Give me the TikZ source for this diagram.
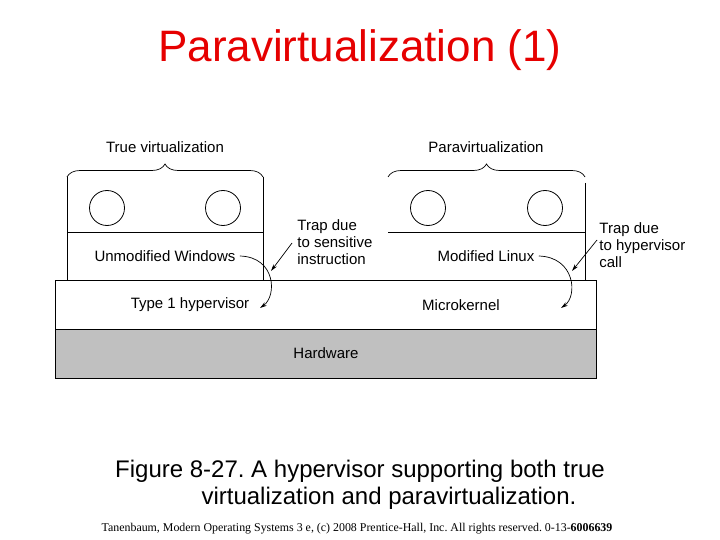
\documentclass[tikz,border=0pt]{standalone}
\usepackage{fontspec}
\setmainfont{Liberation Sans}
\newfontfamily\footfont{Liberation Serif}
\usetikzlibrary{decorations.pathreplacing,arrows.meta}
\definecolor{hwgray}{RGB}{192,192,192}
\definecolor{titlered}{RGB}{230,0,0}
\frenchspacing
\begin{document}
\begin{tikzpicture}[x=1pt,y=-1pt,line width=0.8pt,
  lbl/.style={font=\fontsize{15}{17}\selectfont,inner sep=0pt},
  note/.style={font=\fontsize{15}{17}\selectfont,align=left,anchor=north west,inner sep=0pt},
  vm/.style={circle,draw,minimum size=35pt,inner sep=0pt},
  layer/.style={draw,minimum width=541pt,minimum height=49pt,anchor=north west,inner sep=0pt},
  bracestyle/.style={decorate,decoration={brace,amplitude=13pt},line width=0.7pt},
  trap/.style={-{Stealth[length=7pt,width=4pt]},line width=0.7pt}]
\useasboundingbox (0,0) rectangle (720,540);
% title
\node[font=\fontsize{44}{48}\selectfont,text=titlered,anchor=base] (title) at (360,62) {Paravirtualization (1)};
% layers
\node[layer,fill=hwgray] (hw) at (55,329) {};
\node[layer] (hyp) at (55,280) {};
\node[lbl] (hwlbl) at (326,353) {Hardware};
\node[lbl] (t1) at (190,305) {Type 1 hypervisor};
\node[lbl] (mk) at (461,305) {Microkernel};
% left VM stack
\draw (67,177) -- (67,280);
\draw (263,177) -- (263,280);
\draw (67,232) -- (263,232);
\node[vm] (c1) at (107,208) {};
\node[vm] (c2) at (223,208) {};
\draw[bracestyle] (67,177) -- (263,177);
\node[lbl] (tv) at (165,147) {True virtualization};
\node[lbl] (uw) at (165,256) {Unmodified Windows};
% right VM stack
\draw (585,183) -- (585,280);
\draw (388,232) -- (585,232);
\node[vm] (c3) at (428,208) {};
\node[vm] (c4) at (545,208) {};
\draw[bracestyle] (388,177) -- (585,177);
\node[lbl] (pv) at (486,147) {Paravirtualization};
\node[lbl] (ml) at (486,256) {Modified Linux};
% trap notes
\node[note] (n1) at (297,219) {Trap due\\to sensitive\\instruction};
\node[note] (n2) at (599,222) {Trap due\\to hypervisor\\call};
% curved trap arrows
\coordinate (a1s) at ([xshift=4pt]uw.east);
\coordinate (a1e) at (260,308);
\draw[trap] (a1s) .. controls (276,257) and (277,296) .. (a1e);
\coordinate (a2s) at ([xshift=4pt]ml.east);
\coordinate (a2e) at (561,308);
\draw[trap] (a2s) .. controls (575,257) and (578,296) .. (a2e);
\coordinate (p1) at (292,243);
\coordinate (q1) at (271,271);
\draw[trap] (p1) -- (q1);
\coordinate (p2) at (597,240);
\coordinate (q2) at (572,271);
\draw[trap] (p2) -- (q2);
% caption
\node[font=\fontsize{24}{27}\selectfont,anchor=base] (cap1) at (360,477) {Figure 8-27. A hypervisor supporting both true};
\node[font=\fontsize{24}{27}\selectfont,anchor=base] (cap2) at (389,504) {virtualization and paravirtualization.};
% footer
\node[font=\footfont\fontsize{11.9}{13}\selectfont,anchor=base] (foot) at (357,531) {Tanenbaum, Modern Operating Systems 3 e, (c) 2008 Prentice-Hall, Inc. All rights reserved. 0-13-\textbf{6006639}};
\end{tikzpicture}
\end{document}
